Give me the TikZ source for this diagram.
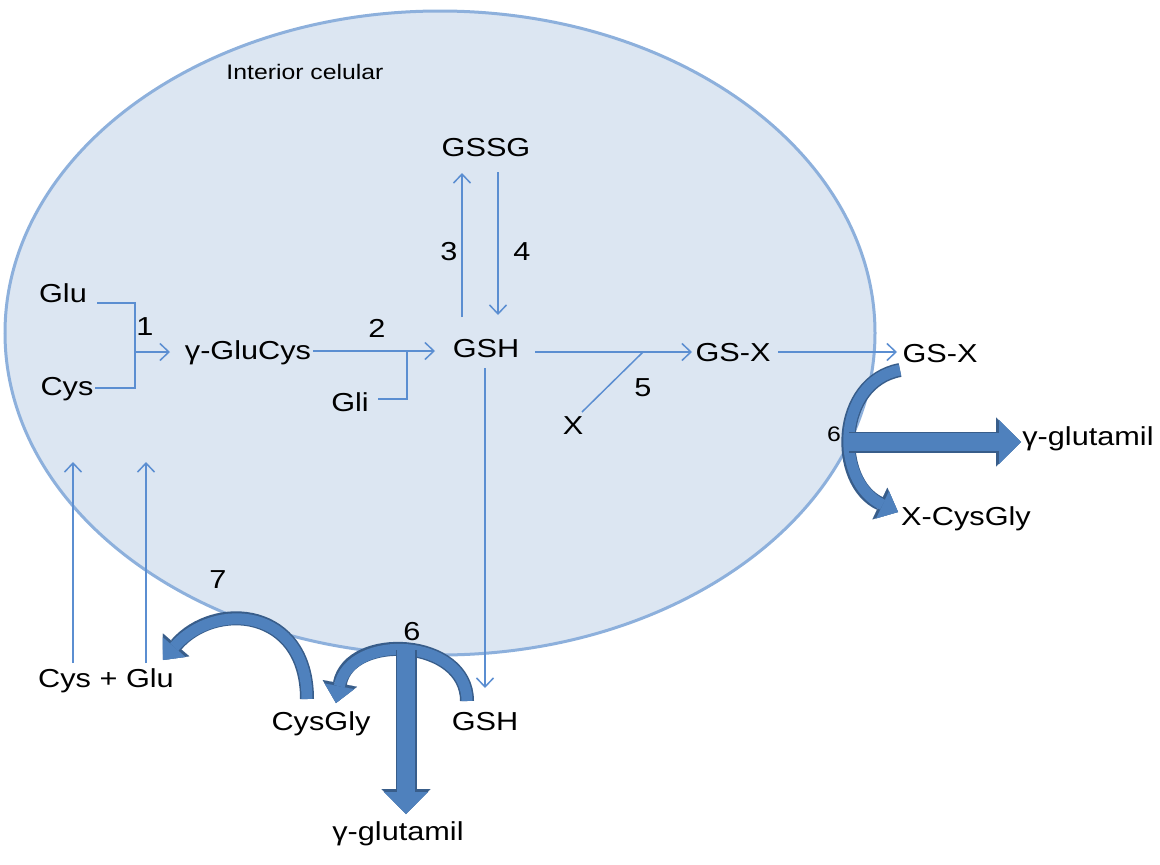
\documentclass[tikz,border=0pt]{standalone}
\usepackage{fontspec}
\setmainfont{Liberation Sans}[FakeStretch=1.18]
\usetikzlibrary{arrows.meta}
\definecolor{cellfill}{HTML}{DCE6F2}
\definecolor{celledge}{HTML}{8DB0DC}
\definecolor{rxblue}{HTML}{5B8ED1}
\definecolor{bigfill}{HTML}{4F81BD}
\definecolor{bigedge}{HTML}{385D8A}
\begin{document}
\begin{tikzpicture}[x=1pt,y=-1pt,
  lbl/.style={inner sep=0pt, text height=18pt, text depth=0pt, font=\fontsize{26}{30}\selectfont},
  small/.style={inner sep=0pt, text height=15pt, text depth=0pt, font=\fontsize{21}{25}\selectfont},
  rx/.style={draw=rxblue, line width=1.5pt, -{Straight Barb[length=9pt,width=17pt]}},
  rxline/.style={draw=rxblue, line width=1.5pt},
  bigcurve/.style={draw=bigfill, line width=11pt,
    -{Triangle[width=30pt,length=17pt,line width=0.1pt]},
    preaction={draw=bigedge, line width=14pt, -{Triangle[width=35pt,length=20pt,line width=0.1pt]}}},
  bigstraight/.style={draw=bigfill, line width=18pt,
    -{Triangle[width=44pt,length=22pt,line width=0.1pt]},
    preaction={draw=bigedge, line width=21pt, -{Triangle[width=49pt,length=25pt,line width=0.1pt]}}}
]
\useasboundingbox (0,0) rectangle (1160,865);
\fill[white] (0,0) rectangle (1160,865);
% cell
\draw[fill=cellfill, draw=celledge, line width=3pt] (440,333) ellipse [x radius=435, y radius=322];

% texts
\node[small] (int) at (305,72) {Interior celular};
\node[lbl] (gssg) at (486,147) {GSSG};
\node[lbl] (glu) at (63,293) {Glu};
\node[lbl] (cys) at (67,386) {Cys};
\node[lbl] (gglucys) at (248,350) {γ-GluCys};
\node[lbl] (gli) at (350,402) {Gli};
\node[lbl] (gsh) at (486,348) {GSH};
\node[lbl] (x) at (573,425) {X};
\node[lbl] (gsx) at (733,352) {GS-X};
\node[lbl] (gsxo) at (940,353) {GS-X};
\node[lbl] (gglur) at (1088,436) {γ-glutamil};
\node[lbl] (xcg) at (966,516) {X-CysGly};
\node[lbl] (cysglu) at (106,678) {Cys + Glu};
\node[lbl] (cysgly) at (321,721) {CysGly};
\node[lbl] (gsho) at (485,721) {GSH};
\node[lbl] (gglub) at (398,831) {γ-glutamil};
% reaction numbers
\node[lbl] (n1) at (145,326) {1};
\node[lbl] (n2) at (377,328) {2};
\node[lbl] (n3) at (449,251) {3};
\node[lbl] (n4) at (522,251) {4};
\node[lbl] (n5) at (643,387) {5};
\node[small] (n6r) at (834,434) {6};
\node[lbl] (n6b) at (412,631) {6};
\node[lbl] (n7) at (218,579) {7};

% reaction 1
\coordinate (b1a) at (97,303);
\coordinate (b1c) at (135,388);
\coordinate (b1d) at (95,388);
\coordinate (b1m) at (135,352);
\coordinate (b1e) at (170,352);
\draw[rxline] (b1a) -| (b1c) -- (b1d);
\draw[rx] (b1m) -- (b1e);
% reaction 2
\coordinate (b2s) at (313,351);
\coordinate (b2e) at (435,351);
\coordinate (b2g) at (378,399);
\coordinate (b2j) at (407,351);
\draw[rx] (b2s) -- (b2e);
\draw[rxline] (b2g) -| (b2j);
% reactions 3, 4
\draw[rx] (462,317) -- (462,173);
\draw[rx] (498,172) -- (498,315);
% reaction 5
\coordinate (r5s) at (535,352);
\coordinate (r5j) at (643,352);
\coordinate (r5e) at (692,352);
\coordinate (r5x) at (582,412);
\draw[rx] (r5s) -- (r5e);
\draw[rxline] (r5x) -- (r5j);
% export GS-X
\draw[rx] (778,352) -- (897,352);
% GSH export
\draw[rx] (485,368) -- (485,688);
% uptake
\draw[rx] (73,663) -- (73,462);
\draw[rx] (146,663) -- (146,462);

% big arrows
\draw[bigcurve] (900,370) .. controls (836,382) and (834,482) .. (898,512);
\draw[bigstraight] (849,442) -- (1021,442);
\draw[bigcurve] (467,701) .. controls (467,638) and (350,632) .. (336,703);
\draw[bigcurve] (307,699) .. controls (307,608) and (215,600) .. (163,660);
\draw[bigstraight] (406,650) -- (406,814);
\end{tikzpicture}
\end{document}
